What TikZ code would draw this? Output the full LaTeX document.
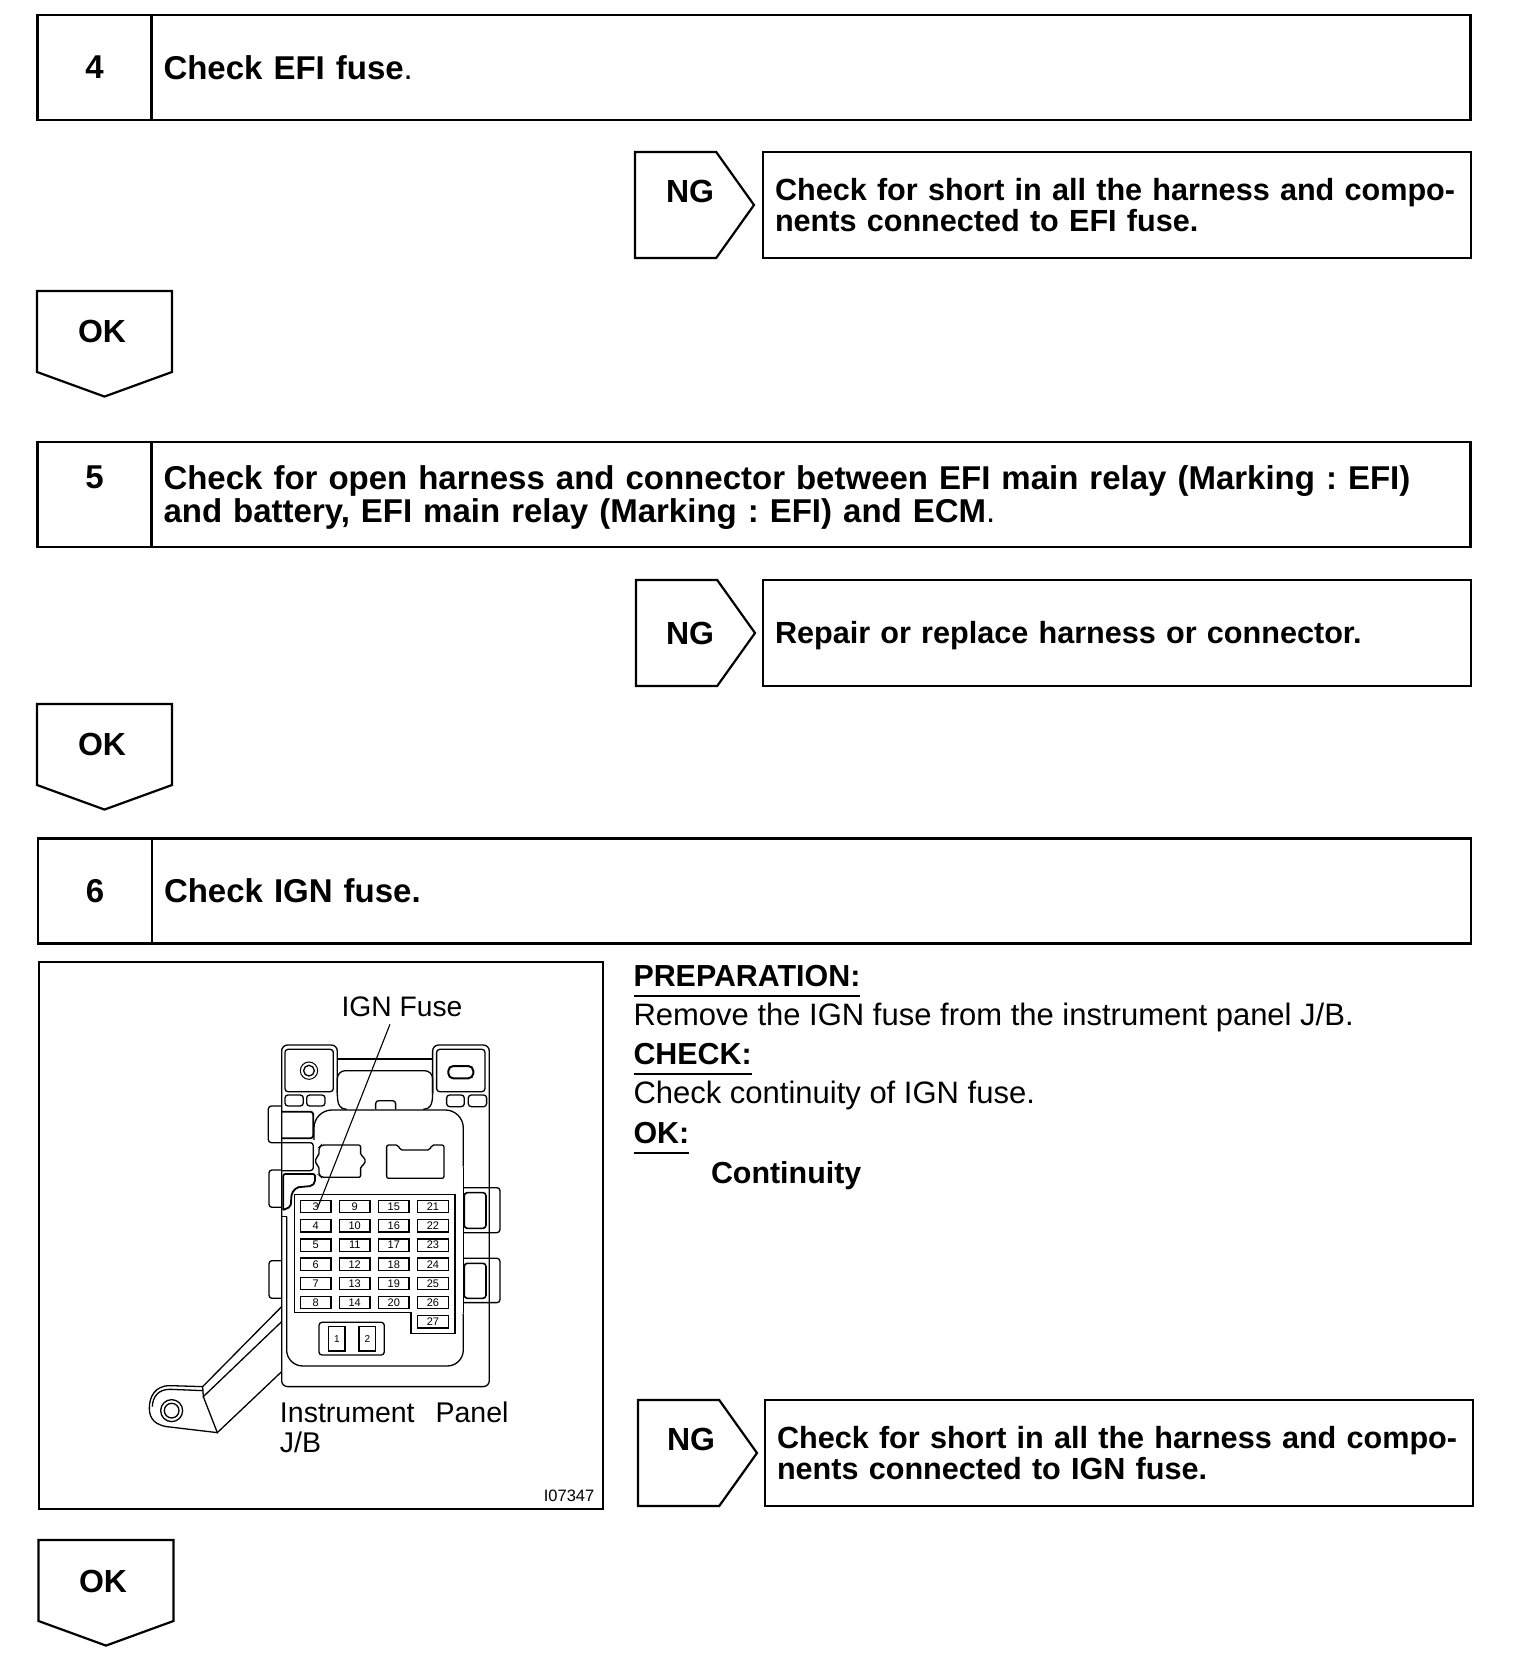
\documentclass[tikz,border=0pt]{standalone}
\usepackage{fontspec}
\setmainfont{Liberation Sans}
\usetikzlibrary{shapes.symbols,positioning}

\begin{document}
\begin{tikzpicture}[
    x=1pt, y=-1pt,
    every node/.style={outer sep=0pt},
    numcell/.style={rectangle, draw=black, line width=2.6pt, minimum width=114pt, minimum height=105pt,
      inner sep=0pt, font=\fontsize{33}{33}\bfseries\selectfont},
    titlecell/.style={rectangle, draw=black, line width=2.6pt, minimum width=1319pt, minimum height=105pt,
      text width=1295pt, align=left, inner xsep=12pt, inner ysep=0pt, font=\fontsize{33}{33}\bfseries\selectfont},
    ngsign/.style={signal, signal to=east, signal from=nowhere, signal pointer angle=109, draw=black,
      line width=2.2pt, minimum width=119pt, minimum height=106pt, inner sep=0pt},
    oksign/.style={signal, signal to=south, signal from=nowhere, signal pointer angle=140, draw=black,
      line width=2.2pt, minimum width=135pt, minimum height=81pt, inner sep=0pt},
    fixbox/.style={rectangle, draw=black, line width=2.6pt, minimum width=708pt, minimum height=106pt,
      text width=684pt, align=left, inner xsep=12pt, inner ysep=0pt, font=\fontsize{30.6}{30.5}\bfseries\selectfont},
    signtext/.style={inner sep=0pt, anchor=base, font=\fontsize{32}{32}\bfseries\selectfont},
    head/.style={inner sep=0pt, anchor=base west, font=\fontsize{30.4}{30}\bfseries\selectfont},
    body/.style={inner sep=0pt, anchor=base west, font=\fontsize{31}{30}\selectfont},
    rule/.style={line width=1.4pt},
    figbox/.style={rectangle, draw=black, line width=2.6pt, minimum width=564pt, minimum height=547pt},
    figlab/.style={inner sep=0pt, anchor=base west, align=left, font=\fontsize{28.5}{30}\selectfont},
    part/.style={line width=1.3pt, rounded corners=3pt},
    fuse/.style={rectangle, draw=black, line width=1.3pt, minimum width=30.5pt, minimum height=12.3pt,
      inner sep=0pt, font=\fontsize{11}{11}\selectfont},
    bigfuse/.style={rectangle, draw=black, line width=1.5pt, minimum width=16.5pt, minimum height=24.5pt,
      inner sep=0pt, font=\fontsize{10}{10}\selectfont}
  ]
    \useasboundingbox (0,0) rectangle (1520,1672);

    % step 4
    \node[numcell] (num4) at (94.5,67.5) {4};
    \node[titlecell, right=0pt of num4] (title4) {Check EFI fuse{\mdseries.}};
    \node[ngsign, anchor=west] (ng4) at (635,205) {};
    \node[signtext] (ngt4) at (690,202) {NG};
    \node[fixbox, right=9pt of ng4] (fix4)
      {Check for short in all the harness and compo-\\nents connected to EFI fuse.};
    \node[oksign, anchor=north] (ok4) at (104.5,291) {};
    \node[signtext] (okt4) at (102,342) {OK};

    % step 5
    \node[numcell, text depth=34pt] (num5) at (94.5,494.5) {5};
    \node[titlecell, right=0pt of num5] (title5)
      {\rule{0pt}{30pt}Check for open harness and connector between EFI main relay (Marking :\ EFI)\\and battery, EFI main relay (Marking :\ EFI) and ECM{\mdseries.}};
    \node[ngsign, anchor=west] (ng5) at (636,633) {};
    \node[signtext] (ngt5) at (690,644) {NG};
    \node[fixbox, right=8pt of ng5] (fix5) {\rule{0pt}{27pt}Repair or replace harness or connector.};
    \node[oksign, anchor=north] (ok5) at (104.5,704) {};
    \node[signtext] (okt5) at (102,755) {OK};

    % step 6
    \node[numcell] (num6) at (95,891) {6};
    \node[titlecell, right=0pt of num6] (title6) {Check IGN fuse.};
    \node[figbox, anchor=north west] (fig6) at (39,962) {};
    \node[head] (prep) at (633.5,986) {PREPARATION:};
    \node[body] (prept) at (633.5,1025) {Remove the IGN fuse from the instrument panel J/B.};
    \node[head] (chk) at (633.5,1064) {CHECK:};
    \node[body] (chkt) at (633.5,1103) {Check continuity of IGN fuse.};
    \node[head] (okh) at (633.5,1143) {OK:};
    \node[head] (okv) at (711,1183) {Continuity};
    \draw[rule] ([yshift=-10pt]prep.base west) -- ([yshift=-10pt]prep.base east);
    \draw[rule] ([yshift=-10pt]chk.base west) -- ([yshift=-10pt]chk.base east);
    \draw[rule] ([yshift=-10pt]okh.base west) -- ([yshift=-10pt]okh.base east);
    \node[ngsign, anchor=west] (ng6) at (638,1453) {};
    \node[signtext] (ngt6) at (691,1450) {NG};
    \node[fixbox, right=8pt of ng6] (fix6)
      {Check for short in all the harness and compo-\\nents connected to IGN fuse.};
    \node[oksign, anchor=north] (ok6) at (106,1540) {};
    \node[signtext] (okt6) at (103,1592) {OK};

    % junction block
    \begin{scope}[shift={(120,980)}, x=0.3333pt, y=-0.3333pt]
      \draw[part, rounded corners=6pt] (485,1175) -- (485,195) -- (652,195) -- (652,340);
      \draw[part, rounded corners=6pt] (938,340) -- (938,195) -- (1108,195) -- (1108,1220) -- (485,1220) -- (485,1175);
      \draw[part] (495,208) rectangle (640,335);
      \draw[part] (950,208) rectangle (1095,335);
      \draw[part, line width=1pt] (567,272) circle (26);
      \draw[part] (567,272) circle (16);
      \draw[part, line width=2pt, rounded corners=5pt] (985,258) rectangle (1060,295);
      \draw[part] (495,345) rectangle (550,378);
      \draw[part] (560,345) rectangle (615,378);
      \draw[part] (980,345) rectangle (1033,380);
      \draw[part] (1045,345) rectangle (1100,380);
      \draw[part] (652,237) -- (938,237);
      \draw[part, rounded corners=8pt] (652,340) -- (652,272) -- (938,272) -- (938,340);
      \draw[part] (652,340) .. controls (652,375) and (660,388) .. (680,388);
      \draw[part] (938,340) .. controls (938,375) and (930,388) .. (910,388);
      \draw[part] (767,388) -- (767,362) -- (827,362) -- (827,388);
      % body
      \draw[part, rounded corners=16pt] (500,710) -- (500,1158) -- (1030,1158) -- (1030,1000);
      \draw[part] (1030,1000) -- (1030,560);
      \draw[part, rounded corners=18pt] (1030,560) -- (1030,390) -- (582,390) -- (582,480);
      \draw[part] (487,710) -- (500,710);
      \draw[part, line width=1.8pt] (485,395) -- (580,395) -- (580,475) -- (485,475);
      \draw[part] (485,488) -- (580,488) -- (580,572) -- (485,572);
      \draw[part, line width=1.8pt, rounded corners=2pt] (490,690) -- (490,582) -- (585,582) -- (585,608) -- (575,618) -- (530,622) -- (515,640) -- (512,680) -- (490,690);
      \draw[part] (485,378) -- (445,378) -- (445,488) -- (485,488);
      \draw[part] (485,570) -- (447,570) -- (447,682) -- (485,682);
      \draw[part] (485,842) -- (447,842) -- (447,955) -- (485,955);
      \draw[part] (1030,623) -- (1140,623) -- (1140,758) -- (1030,758);
      \draw[part] (1030,835) -- (1140,835) -- (1140,968) -- (1030,968);
      \draw[part, line width=1.6pt] (1033,638) rectangle (1098,745);
      \draw[part, line width=1.6pt] (1033,850) rectangle (1098,955);
      \draw[part, rounded corners=2pt] (605,495) -- (722,495) -- (722,527) -- (735,533) -- (735,553) -- (722,558) -- (722,592) -- (605,592) -- (597,585) -- (597,558) -- (587,553) -- (587,533) -- (597,527) -- (597,503) -- cycle;
      \draw[part, rounded corners=2pt] (800,495) -- (835,495) -- (840,510) -- (930,510) -- (935,495) -- (972,495) -- (972,595) -- (800,595) -- cycle;
      \draw[part, rounded corners=0pt] (523,643) -- (1005,643) -- (1005,1060) -- (873,1060) -- (873,998) -- (523,998) -- cycle;
      % fuses
      \node[fuse] (f3) at (587,680) {3};
      \node[fuse, below=6.9pt of f3] (f4) {4};
      \node[fuse, below=6.9pt of f4] (f5) {5};
      \node[fuse, below=6.9pt of f5] (f6) {6};
      \node[fuse, below=6.9pt of f6] (f7) {7};
      \node[fuse, below=6.9pt of f7] (f8) {8};
      \node[fuse, right=8.6pt of f3] (f9) {9};
      \node[fuse, below=6.9pt of f9] (f10) {10};
      \node[fuse, below=6.9pt of f10] (f11) {11};
      \node[fuse, below=6.9pt of f11] (f12) {12};
      \node[fuse, below=6.9pt of f12] (f13) {13};
      \node[fuse, below=6.9pt of f13] (f14) {14};
      \node[fuse, right=8.6pt of f9] (f15) {15};
      \node[fuse, below=6.9pt of f15] (f16) {16};
      \node[fuse, below=6.9pt of f16] (f17) {17};
      \node[fuse, below=6.9pt of f17] (f18) {18};
      \node[fuse, below=6.9pt of f18] (f19) {19};
      \node[fuse, below=6.9pt of f19] (f20) {20};
      \node[fuse, right=8.6pt of f15] (f21) {21};
      \node[fuse, below=6.9pt of f21] (f22) {22};
      \node[fuse, below=6.9pt of f22] (f23) {23};
      \node[fuse, below=6.9pt of f23] (f24) {24};
      \node[fuse, below=6.9pt of f24] (f25) {25};
      \node[fuse, below=6.9pt of f25] (f26) {26};
      \node[fuse, below=6.9pt of f26] (f27) {27};
      \draw[part] (597,1027) rectangle (793,1125);
      \node[bigfuse] (f1) at (651,1077) {1};
      \node[bigfuse] (f2) at (742,1077) {2};
      % bracket
      \draw[part, rounded corners=0pt] (485,980) -- (248,1220) -- (250,1250) -- (485,1025);
      \draw[part, rounded corners=0pt] (485,1175) -- (292,1358) -- (250,1250);
      \draw[part, rounded corners=0pt] (248,1220) -- (150,1217) .. controls (105,1217) and (88,1250) .. (88,1285) .. controls (88,1320) and (110,1335) .. (140,1340) -- (292,1358);
      \draw[part, rounded corners=0pt] (248,1232) -- (150,1228) .. controls (115,1228) and (98,1250) .. (97,1280);
      \draw[part] (155,1292) circle (33);
      \draw[part] (155,1292) circle (22);
      % labels
      \node[figlab, font=\fontsize{28.2}{30}\selectfont] (ignlab) at (665,108) {IGN Fuse};
      \node[figlab] (panlab) at (480,1418) {Instrument\hspace{21pt}Panel\\J/B};
      \node[inner sep=0pt, anchor=base east, font=\fontsize{16.5}{17}\selectfont] (code) at (1423,1566) {I07347};
      \draw[line width=1.1pt] ([xshift=-12pt,yshift=-8pt]ignlab.south) -- ([xshift=2pt,yshift=-1pt]f3.center);
    \end{scope}
  \end{tikzpicture}
\end{document}
